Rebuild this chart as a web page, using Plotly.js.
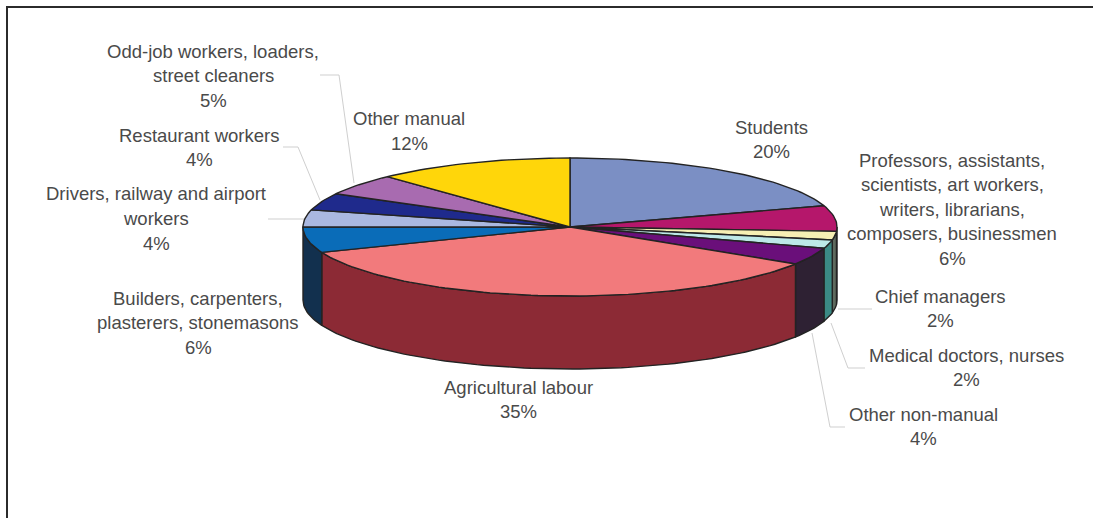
<!DOCTYPE html>
<html>
<head>
<meta charset="utf-8">
<script src="https://cdn.plot.ly/plotly-3.0.1.min.js"></script>
<style>html,body{margin:0;padding:0;background:#fff}#chart{width:1093px;height:518px}</style>
</head>
<body>
<div id="chart"></div>
<script>
// Occupations, clockwise from twelve o'clock
const categories = [
  ["Students"],
  ["Professors, assistants,", "scientists, art workers,", "writers, librarians,", "composers, businessmen"],
  ["Chief managers"],
  ["Medical doctors, nurses"],
  ["Other non-manual"],
  ["Agricultural labour"],
  ["Builders, carpenters,", "plasterers, stonemasons"],
  ["Drivers, railway and airport", "workers"],
  ["Restaurant workers"],
  ["Odd-job workers, loaders,", "street cleaners"],
  ["Other manual"]
];
const shares = [20, 6, 2, 2, 4, 35, 6, 4, 4, 5, 12];
const topColors = ["#7b8fc4", "#b5176b", "#f6efb4", "#bde8e8", "#6a0f7a", "#f27a7c", "#0a6cb8", "#aab8e0", "#1f2a8c", "#a86bb0", "#ffd60a"];
const sideColors = ["#3f4a68", "#5c0c38", "#5e6a5e", "#3b8a85", "#2e2133", "#8c2a35", "#12304e", "#4a5270", "#101548", "#553660", "#80700a"];

// Pixel layout of the disc and its labels
const W = 1093, H = 518;
const cx = 570, cy = 227, rx = 267, ry = 69, depth = 73;
const labelSpots = [
  [771, 127], [952, 160], [941, 296], [966, 355], [923, 414], [518, 387],
  [198, 298], [156, 194], [199, 135], [213, 51], [409, 119]
];
const lineGap = 24.6;
const leaders = [
  "M320,75 L339,75 L354,183",
  "M283,147 L298,147 L320,200",
  "M268,219 L305,219",
  "M838,309 L872,309",
  "M831,323 L848,368 L865,368",
  "M812,333 L830,427 L845,427"
];

// Data space: one x unit is the disc's horizontal radius, one y unit its vertical radius
const xRange = [(0 - cx) / rx, (W - cx) / rx];
const yRange = [(cy - H) / ry, cy / ry];
const drop = depth / ry;

const rim = deg => [Math.sin(deg * Math.PI / 180), Math.cos(deg * Math.PI / 180)];
function arc(a, b) {
  const pts = [], n = Math.max(2, Math.ceil((b - a) / 1.5));
  for (let i = 0; i <= n; i++) pts.push(rim(a + (b - a) * i / n));
  return pts;
}
function polygon(pts, color) {
  return {
    type: "scatter", mode: "lines", fill: "toself", fillcolor: color,
    x: pts.map(p => p[0]), y: pts.map(p => p[1]),
    line: {color: "#232323", width: 1.4}, hoverinfo: "skip", showlegend: false
  };
}

const total = shares.reduce((s, v) => s + v, 0);
const sides = [], tops = [];
let run = 0;
shares.forEach((v, i) => {
  const a = run / total * 360, b = (run + v) / total * 360;
  run += v;
  tops.push(polygon([[0, 0], ...arc(a, b), [0, 0]], topColors[i]));
  const lo = Math.max(a, 90), hi = Math.min(b, 270);
  if (hi > lo) {
    const edge = arc(lo, hi);
    const lower = edge.slice().reverse().map(p => [p[0], p[1] - drop]);
    sides.push(polygon([...edge, ...lower, edge[0]], sideColors[i]));
  }
});

const font = {family: "Liberation Sans, Arial, sans-serif", size: 18.5, color: "#4a4a4a"};
const annotations = [];
categories.forEach((lines, i) => {
  [...lines, shares[i] + "%"].forEach((text, k) => {
    annotations.push({
      xref: "paper", yref: "paper", showarrow: false, font, text,
      x: labelSpots[i][0] / W, y: 1 - (labelSpots[i][1] + k * lineGap) / H,
      xanchor: "center", yanchor: "middle"
    });
  });
});

const px = d => d.replace(/(-?[\d.]+),(-?[\d.]+)/g, (m, x, y) => (x / W) + "," + (1 - y / H));
const shapes = leaders.map(d => ({
  type: "path", xref: "paper", yref: "paper", path: px(d),
  line: {color: "#cfcfcf", width: 1}, layer: "below"
}));
// Frame: top and left rules only
shapes.push({type: "line", xref: "paper", yref: "paper", x0: 7 / W, x1: 1, y0: 1 - 7 / H, y1: 1 - 7 / H, line: {color: "#2b2b2b", width: 2}});
shapes.push({type: "line", xref: "paper", yref: "paper", x0: 7 / W, x1: 7 / W, y0: 0, y1: 1 - 6 / H, line: {color: "#2b2b2b", width: 2}});

Plotly.newPlot("chart", [...sides, ...tops], {
  width: W, height: H,
  margin: {l: 0, r: 0, t: 0, b: 0},
  paper_bgcolor: "#fff", plot_bgcolor: "#fff",
  xaxis: {visible: false, range: xRange, fixedrange: true},
  yaxis: {visible: false, range: yRange, fixedrange: true},
  showlegend: false, hovermode: false,
  annotations, shapes
}, {displayModeBar: false, staticPlot: true});
</script>
</body>
</html>
